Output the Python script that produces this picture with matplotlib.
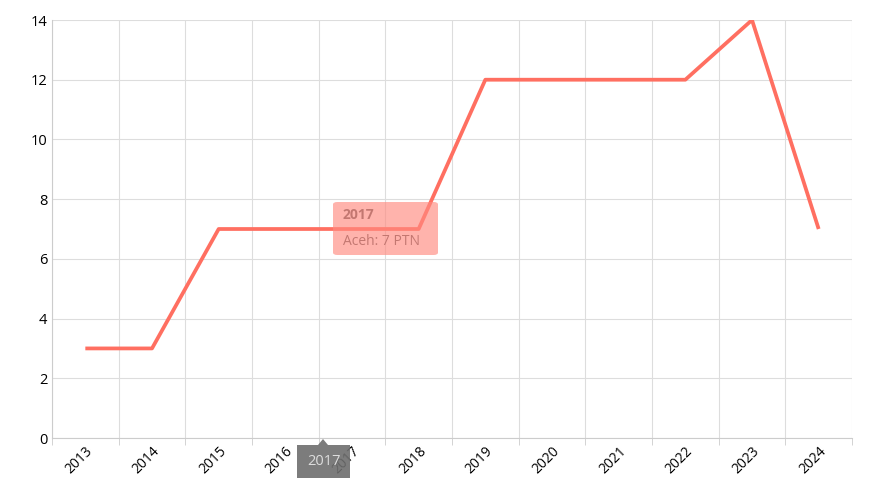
import matplotlib.pyplot as plt
from matplotlib.patches import FancyBboxPatch, Polygon

plt.rcParams['font.family'] = ['Open Sans', 'DejaVu Sans']

years = ['2013', '2014', '2015', '2016', '2017', '2018',
         '2019', '2020', '2021', '2022', '2023', '2024']
ptn = [3, 3, 7, 7, 7, 7, 12, 12, 12, 12, 14, 7]

fig = plt.figure(figsize=(8.73, 5), dpi=100)
ax = fig.add_axes([52/873, 1 - 438/500, 800/873, 418/500])

x = list(range(len(years)))
ax.plot(x, ptn, color='#ff6f61', linewidth=2.7, solid_capstyle='butt', zorder=3)

ax.set_xlim(-0.5, len(years) - 0.5)
ax.set_ylim(0, 14)
ax.set_yticks(range(0, 15, 2))
ax.set_xticks(x)
ax.set_xticklabels(years, rotation=45, ha='right', rotation_mode='anchor')
ax.set_xticks([i - 0.5 for i in range(len(years) + 1)], minor=True)
ax.grid(True, which='minor', axis='x', color='#dddddd', linewidth=0.8)
ax.grid(True, which='major', axis='y', color='#dddddd', linewidth=0.8)
ax.tick_params(axis='x', which='major', length=0, pad=4, labelsize=10)
ax.tick_params(axis='x', which='minor', length=5, color='#cccccc')
ax.tick_params(axis='y', length=0, labelsize=10.5)
for s in ['top', 'right']:
    ax.spines[s].set_visible(False)
ax.spines['left'].set_color('#cccccc')
ax.spines['bottom'].set_color('#cccccc')

# tooltip at 2017
tip = FancyBboxPatch((333/873, 1 - 255/500), 105/873, 53/500,
                     boxstyle='round,pad=0,rounding_size=0.005',
                     transform=fig.transFigure, facecolor='#ff8a80', alpha=0.65,
                     edgecolor='none', zorder=5)
fig.patches.append(tip)
fig.text(343/873, 1 - 219/500, years[4], fontsize=10, fontweight='bold', color='#555555')
fig.text(343/873, 1 - 245/500, f'Aceh: {ptn[4]} PTN', fontsize=10, color='#555555')

# axis tooltip
abox = FancyBboxPatch((297/873, 1 - 478/500), 53/873, 33/500,
                      boxstyle='square,pad=0', transform=fig.transFigure,
                      facecolor='#6e6e6e', alpha=0.9, edgecolor='none')
fig.patches.append(abox)
fig.patches.append(Polygon([(318/873, 1 - 445/500), (328/873, 1 - 445/500),
                            (323/873, 1 - 439/500)], closed=True,
                           transform=fig.transFigure, facecolor='#6e6e6e', alpha=0.9))
fig.text(323.5/873, 1 - 461.5/500, years[4], fontsize=10.5, color='#dddddd',
         ha='center', va='center')

fig.savefig('out.png', dpi=100)
